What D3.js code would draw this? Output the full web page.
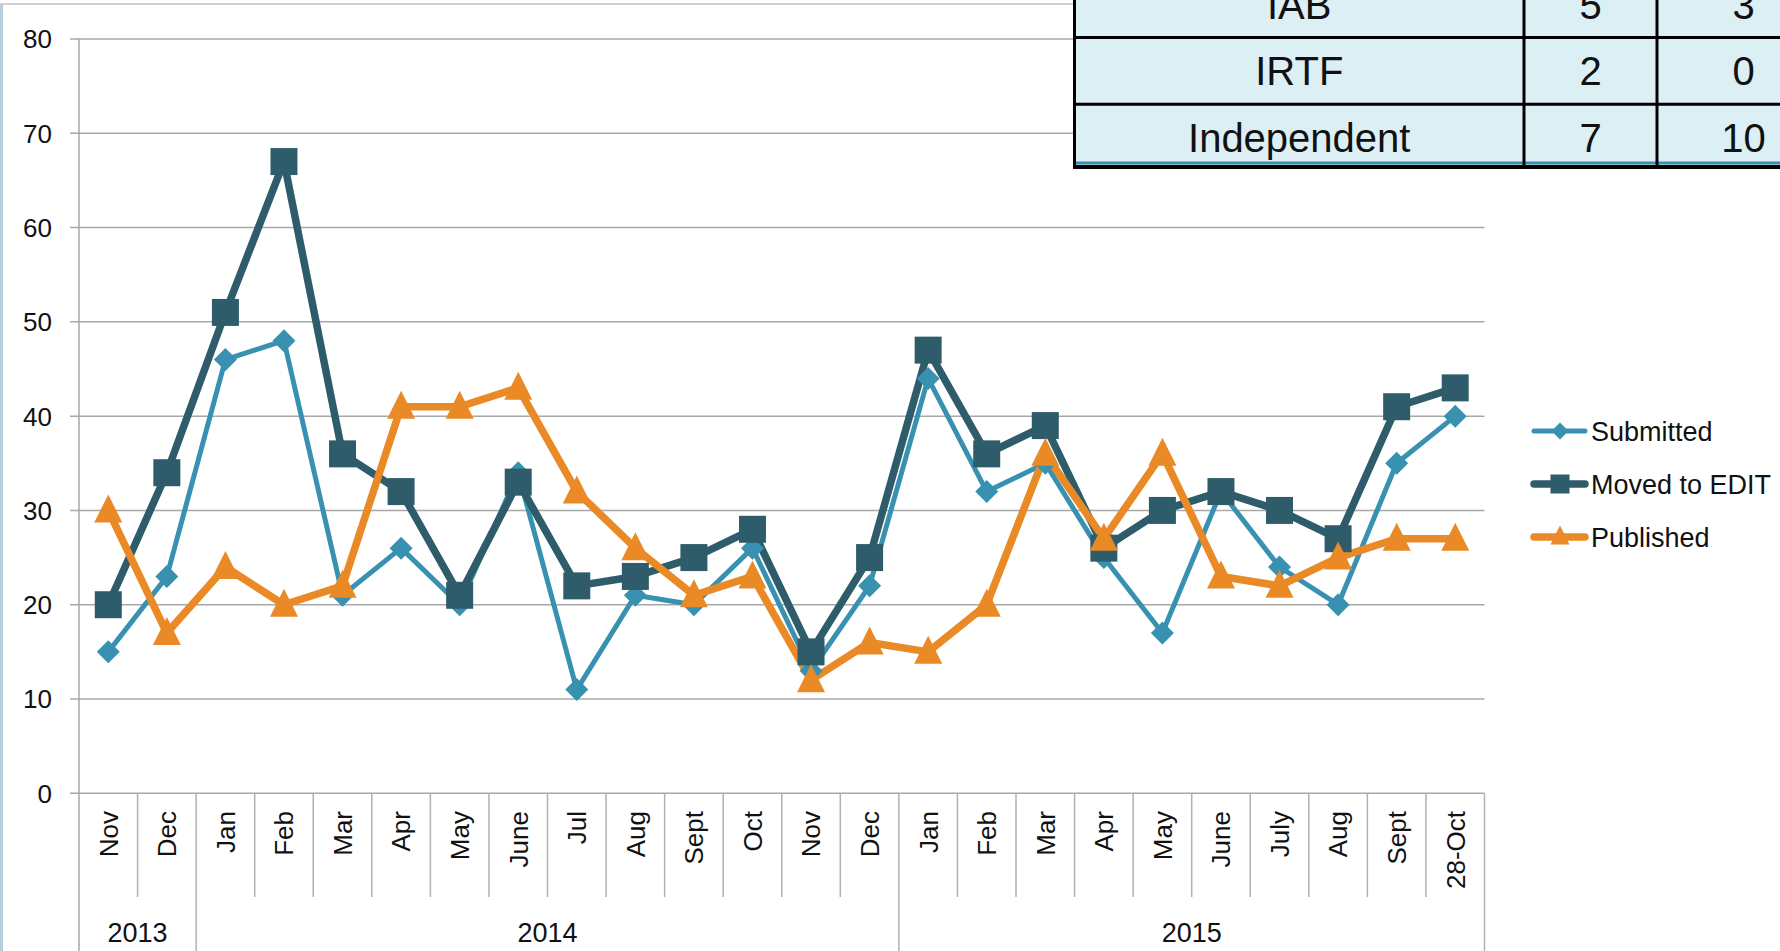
<!DOCTYPE html>
<html>
<head>
<meta charset="utf-8">
<script src="https://cdn.jsdelivr.net/npm/d3@7"></script>
<style>
  body { margin: 0; background: #fff; }
  svg { display: block; font-family: "Liberation Sans", Arial, sans-serif; }
</style>
</head>
<body>
<svg id="chart" width="1780" height="951"></svg>
<script>
// months on the x axis, grouped by year
var months = ["Nov", "Dec", "Jan", "Feb", "Mar", "Apr", "May", "June", "Jul", "Aug", "Sept", "Oct",
              "Nov", "Dec", "Jan", "Feb", "Mar", "Apr", "May", "June", "July", "Aug", "Sept", "28-Oct"];
var years = [
  {label: "2013", from: 0, to: 2},
  {label: "2014", from: 2, to: 14},
  {label: "2015", from: 14, to: 24}
];
var yTicks = [0, 10, 20, 30, 40, 50, 60, 70, 80];

var submitted = [15, 23, 46, 48, 21, 26, 20, 34, 11, 21, 20, 26, 13, 22, 44, 32, 35, 25, 17, 32, 24, 20, 35, 40];
var movedToEdit = [20, 34, 51, 67, 36, 32, 21, 33, 22, 23, 25, 28, 15, 25, 47, 36, 39, 26, 30, 32, 30, 27, 41, 43];
var published = [30, 17, 24, 20, 22, 41, 41, 43, 32, 26, 21, 23, 12, 16, 15, 20, 36, 27, 36, 23, 22, 25, 27, 27];

var seriesNames = ["Submitted", "Moved to EDIT", "Published"];

// overlay table in the top right corner (partly off the picture, as in the source)
var tableRows = ["IAB", "IRTF", "Independent"];
var tableCol1 = [5, 2, 7];
var tableCol2 = [3, 0, 10];

var svg = d3.select("#chart");

// note: "top" would clash with window.top
var plotLeft = 79, plotRight = 1484.5, plotTop = 39, plotBottom = 793.3;

var x = d3.scaleBand().domain(d3.range(months.length)).range([plotLeft, plotRight]);
var y = d3.scaleLinear().domain([0, 80]).range([plotBottom, plotTop]);

// marker shapes, sized by their width in px
function diamond(w) {
  var h = w / 2;
  return "M0," + (-h) + "L" + h + ",0L0," + h + "L" + (-h) + ",0Z";
}
function square(w) {
  var h = w / 2;
  return "M" + (-h) + "," + (-h) + "H" + h + "V" + h + "H" + (-h) + "Z";
}
function triangle(w) {
  var h = w / 2;
  return "M0," + (-h - 2) + "L" + h + "," + (h - 2) + "H" + (-h) + "Z";
}

var series = [
  {name: seriesNames[0], values: submitted, color: "#3891b1", width: 5, shape: diamond, size: 23, legendSize: 17},
  {name: seriesNames[1], values: movedToEdit, color: "#2e5c6b", width: 7.5, shape: square, size: 27, legendSize: 19},
  {name: seriesNames[2], values: published, color: "#e98a27", width: 7.5, shape: triangle, size: 28, legendSize: 19}
];

// chart frame
svg.append("line").attr("x1", 1.5).attr("x2", 1.5).attr("y1", 4).attr("y2", 951)
  .attr("stroke", "#b7cfda").attr("stroke-width", 3);
svg.append("line").attr("x1", 0).attr("x2", 1780).attr("y1", 4).attr("y2", 4)
  .attr("stroke", "#cdd1d4").attr("stroke-width", 2);

// gridlines and y labels
var grid = svg.append("g");
grid.selectAll("line").data(yTicks).enter().append("line")
  .attr("x1", plotLeft - 9).attr("x2", plotRight)
  .attr("y1", function(d) { return y(d); })
  .attr("y2", function(d) { return y(d); })
  .attr("stroke", "#a8a8a8").attr("stroke-width", 1.5);
grid.selectAll("text").data(yTicks).enter().append("text")
  .attr("x", 52).attr("y", function(d) { return y(d); })
  .attr("dy", "0.36em").attr("text-anchor", "end")
  .attr("font-size", 26).attr("fill", "#111")
  .text(function(d) { return d; });

// y axis line, running down through the category rows
svg.append("line").attr("x1", plotLeft).attr("x2", plotLeft).attr("y1", plotTop).attr("y2", 951)
  .attr("stroke", "#a8a8a8").attr("stroke-width", 1.5);

// category separators: short for months, long at year edges
var yearEdges = years.map(function(d) { return d.to; });
var sep = d3.range(1, months.length + 1);
svg.append("g").selectAll("line").data(sep).enter().append("line")
  .attr("x1", function(i) { return i < months.length ? x(i) : plotRight; })
  .attr("x2", function(i) { return i < months.length ? x(i) : plotRight; })
  .attr("y1", plotBottom)
  .attr("y2", function(i) { return yearEdges.indexOf(i) >= 0 ? 951 : 897; })
  .attr("stroke", "#b0b0b0").attr("stroke-width", 1.5);

// month labels
svg.append("g").selectAll("text").data(months).enter().append("text")
  .attr("transform", function(d, i) { return "translate(" + (x(i) + x.bandwidth() / 2) + ",811) rotate(-90)"; })
  .attr("dy", "0.36em").attr("text-anchor", "end")
  .attr("font-size", 26).attr("fill", "#111")
  .text(function(d) { return d; });

// year labels
svg.append("g").selectAll("text").data(years).enter().append("text")
  .attr("x", function(d) { return (x(d.from) + (d.to < months.length ? x(d.to) : plotRight)) / 2; })
  .attr("y", 942).attr("text-anchor", "middle")
  .attr("font-size", 27).attr("fill", "#111")
  .text(function(d) { return d.label; });

// lines first, then markers
var line = d3.line()
  .x(function(d, i) { return x(i) + x.bandwidth() / 2; })
  .y(function(d) { return y(d); });

svg.append("g").selectAll("path").data(series).enter().append("path")
  .attr("d", function(s) { return line(s.values); })
  .attr("fill", "none")
  .attr("stroke", function(s) { return s.color; })
  .attr("stroke-width", function(s) { return s.width; })
  .attr("stroke-linejoin", "round");

series.forEach(function(s) {
  svg.append("g").selectAll("path").data(s.values).enter().append("path")
    .attr("transform", function(d, i) {
      return "translate(" + (x(i) + x.bandwidth() / 2) + "," + y(d) + ")";
    })
    .attr("d", s.shape(s.size))
    .attr("fill", s.color);
});

// legend
var legend = svg.append("g").selectAll("g").data(series).enter().append("g")
  .attr("transform", function(s, i) { return "translate(1532," + (431 + i * 53) + ")"; });
legend.append("line")
  .attr("x1", 2).attr("x2", 53).attr("y1", 0).attr("y2", 0)
  .attr("stroke", function(s) { return s.color; })
  .attr("stroke-width", function(s) { return s.width; })
  .attr("stroke-linecap", "round");
legend.append("path")
  .attr("transform", "translate(28,0)")
  .attr("d", function(s) { return s.shape(s.legendSize); })
  .attr("fill", function(s) { return s.color; });
legend.append("text")
  .attr("x", 59).attr("y", 0).attr("dy", "0.36em")
  .attr("font-size", 27).attr("fill", "#111")
  .text(function(s) { return s.name; });

// table
var tab = svg.append("g");
var colEdges = [1074.5, 1524, 1657, 1830];
var rowH = 66.6, rowTop = -29;
tab.append("rect").attr("x", colEdges[0]).attr("y", -10)
  .attr("width", 800).attr("height", 177).attr("fill", "#dceff5");
tab.append("line").attr("x1", colEdges[0]).attr("x2", 1780).attr("y1", 163).attr("y2", 163)
  .attr("stroke", "#3a8fb0").attr("stroke-width", 3);
tab.selectAll("line.h").data([rowTop + rowH, rowTop + 2 * rowH]).enter().append("line")
  .attr("x1", colEdges[0]).attr("x2", 1780)
  .attr("y1", function(d) { return d; }).attr("y2", function(d) { return d; })
  .attr("stroke", "#000").attr("stroke-width", 3);
tab.append("line").attr("x1", colEdges[0] - 1.5).attr("x2", 1780).attr("y1", 167).attr("y2", 167)
  .attr("stroke", "#000").attr("stroke-width", 4);
tab.selectAll("line.v").data(colEdges.slice(0, 3)).enter().append("line")
  .attr("x1", function(d) { return d; }).attr("x2", function(d) { return d; })
  .attr("y1", -10).attr("y2", 169)
  .attr("stroke", "#000").attr("stroke-width", 3);

var cells = [];
tableRows.forEach(function(r, i) {
  cells.push({text: r, col: 0, row: i});
  cells.push({text: tableCol1[i], col: 1, row: i});
  cells.push({text: tableCol2[i], col: 2, row: i});
});
tab.selectAll("text").data(cells).enter().append("text")
  .attr("x", function(d) { return (colEdges[d.col] + colEdges[d.col + 1]) / 2; })
  .attr("y", function(d) { return rowTop + d.row * rowH + rowH / 2 + 14.5; })
  .attr("text-anchor", "middle")
  .attr("font-size", 40).attr("fill", "#111")
  .text(function(d) { return d.text; });
</script>
</body>
</html>
